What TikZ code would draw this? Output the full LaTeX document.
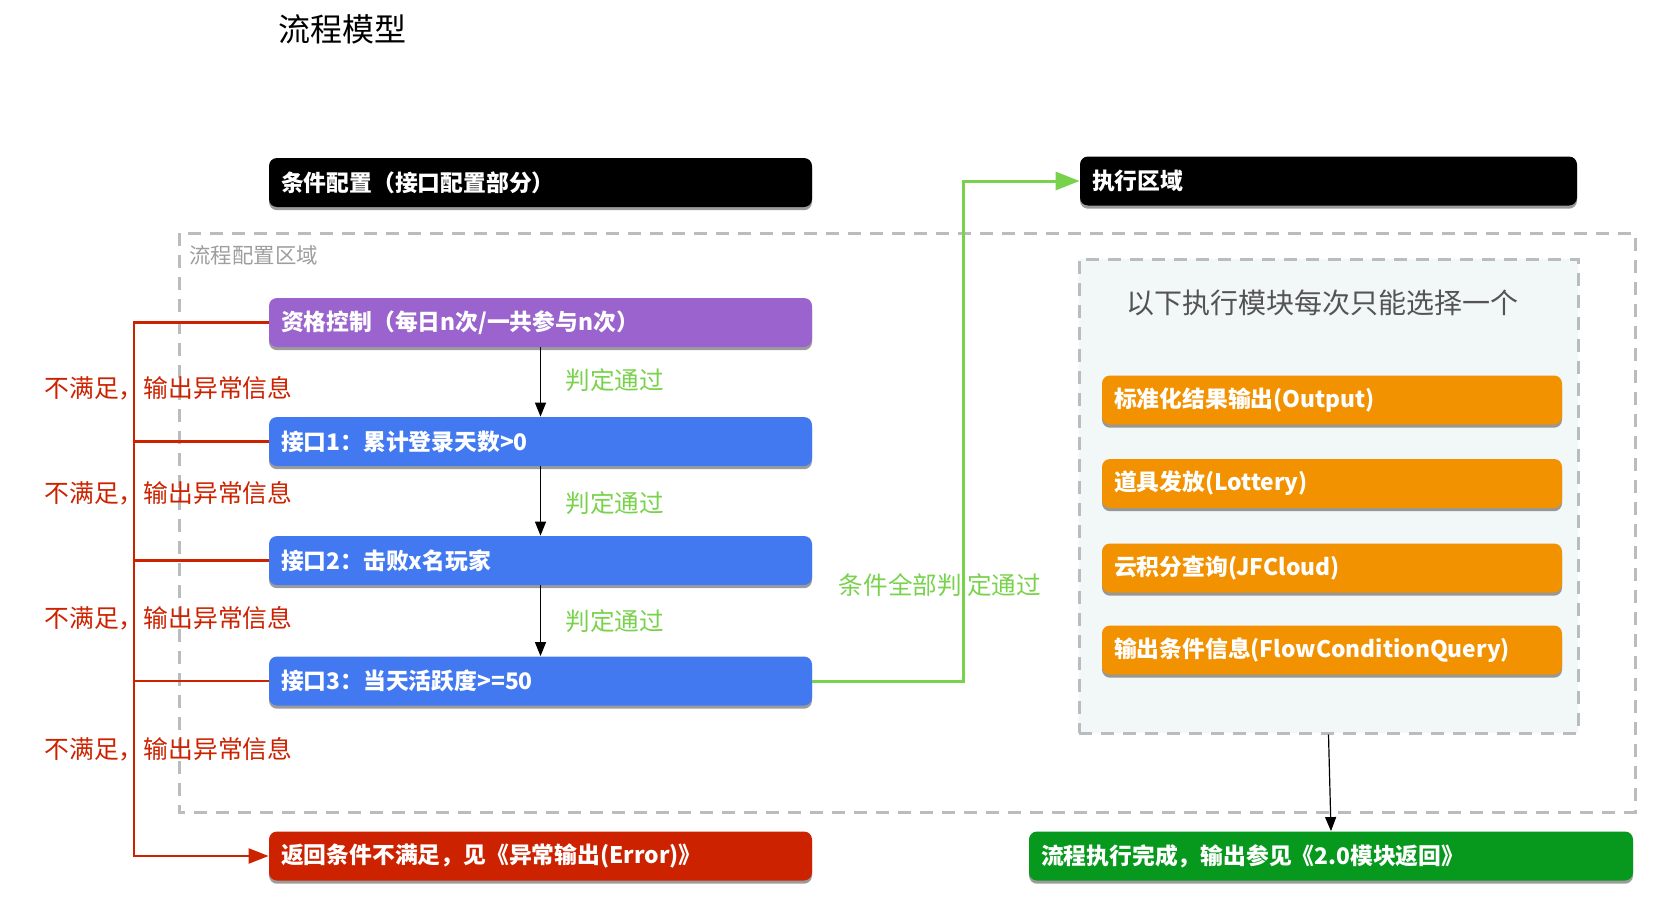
\documentclass[tikz,border=0pt]{standalone}
\usepackage{fontspec}
\setmainfont{Noto Sans CJK SC}
\usepackage{xcolor}
\usepackage{tikz}
\usetikzlibrary{shapes,arrows,positioning,calc,arrows.meta,shadows}

\definecolor{boxpurple}{HTML}{9A63CD}
\definecolor{boxblue}{HTML}{4279F1}
\definecolor{boxred}{HTML}{CC2200}
\definecolor{boxorange}{HTML}{F29200}
\definecolor{boxgreen}{HTML}{07991D}
\definecolor{passgreen}{HTML}{78D24C}
\definecolor{areagray}{HTML}{B9BDC0}
\definecolor{areafill}{HTML}{F2F7F7}

\tikzset{
    cbox/.style={rounded corners=4pt, minimum height=24.5pt, text width=#1,
        inner xsep=6pt, inner ysep=0pt, align=left, text=white,
        font=\fontsize{11.4}{13}\selectfont\bfseries,
        drop shadow={shadow xshift=0pt, shadow yshift=-1.6pt, opacity=0.6, fill=black!65}},
    areadash/.style={draw=areagray, line width=1.5pt, dash pattern=on 6.5pt off 4.5pt},
    passarrow/.style={draw=black, line width=0.6pt, -{Triangle[length=7pt,width=5.5pt]}},
    passtext/.style={text=passgreen, font=\fontsize{12.3}{14}\selectfont},
    failline/.style={draw=boxred, line width=1.2pt},
    failtext/.style={text=boxred, font=\fontsize{12.4}{14}\selectfont, inner sep=0pt},
    allpass/.style={draw=passgreen, line width=1.5pt, -{Triangle[length=12pt,width=9pt]}}
}

\begin{document}
\begin{tikzpicture}[x=0.5pt,y=-0.5pt]
    \useasboundingbox (0,0) rectangle (1654,910);

    % title
    \node [font=\fontsize{16}{18}\selectfont] (title) at (342,29) {流程模型};

    % areas
    \draw [areadash] (179,233) rectangle (1635,812);
    \node [anchor=west, inner sep=0pt, text=black!38, font=\fontsize{10.7}{12}\selectfont] (arealabel) at (189,255) {流程配置区域};
    \node [areadash, fill=areafill, inner sep=0pt, minimum width=249.5pt, minimum height=237pt] (execarea) at (1328.5,496) {};
    \node [text=black!67, font=\fontsize{14}{16}\selectfont] (execnote) at (1322,303) {以下执行模块每次只能选择一个};

    % headers
    \node [cbox=259.5pt, fill=black] (condhead) at (540.5,182.5) {条件配置（接口配置部分）};
    \node [cbox=236.5pt, fill=black] (exechead) at (1328.5,181) {执行区域};

    % conditions
    \node [cbox=259.5pt, fill=boxpurple] (quota) at (540.5,322.5) {资格控制（每日n次/一共参与n次）};
    \node [cbox=259.5pt, fill=boxblue] (api1) at (540.5,441.5) {接口1：累计登录天数>0};
    \node [cbox=259.5pt, fill=boxblue] (api2) at (540.5,560.5) {接口2：击败x名玩家};
    \node [cbox=259.5pt, fill=boxblue] (api3) at (540.5,681) {接口3：当天活跃度>=50};
    \node [cbox=259.5pt, fill=boxred] (fail) at (540.5,856) {返回条件不满足，见《异常输出(Error)》};

    % modules
    \node [cbox=218pt, fill=boxorange] (output) at (1332,400) {标准化结果输出(Output)};
    \node [cbox=218pt, fill=boxorange] (lottery) at (1332,483.5) {道具发放(Lottery)};
    \node [cbox=218pt, fill=boxorange] (jfcloud) at (1332,568) {云积分查询(JFCloud)};
    \node [cbox=218pt, fill=boxorange] (flowquery) at (1332,650) {输出条件信息(FlowConditionQuery)};
    \node [cbox=290pt, fill=boxgreen] (done) at (1331,856) {流程执行完成，输出参见《2.0模块返回》};

    % pass
    \draw [passarrow] (quota.south) -- (api1.north) node [passtext, midway, right=9pt, yshift=1pt] {判定通过};
    \draw [passarrow] (api1.south) -- (api2.north) node [passtext, midway, right=9pt, yshift=-1pt] {判定通过};
    \draw [passarrow] (api2.south) -- (api3.north) node [passtext, midway, right=9pt] {判定通过};

    % fail
    \coordinate (railtop) at (134,322.5);
    \draw [failline, -{Triangle[length=10pt,width=7.5pt]}] (quota.west) -- (railtop) |- (fail.west);
    \foreach \n in {api1,api2,api3}
        \draw [failline] (\n.west) -- (railtop |- \n.west);
    \node [failtext, anchor=west] (fail1) at (44,388) {不满足，输出异常信息};
    \node [failtext, anchor=west] (fail2) at (44,493) {不满足，输出异常信息};
    \node [failtext, anchor=west] (fail3) at (44,618) {不满足，输出异常信息};
    \node [failtext, anchor=west] (fail4) at (44,749) {不满足，输出异常信息};

    % all passed
    \coordinate (passturn) at (963,681);
    \draw [allpass] (api3.east) -- (passturn) |- (exechead.west);
    \node [passtext] (allpasslabel) at (940,585) {条件全部判 定通过};

    % done
    \draw [passarrow] (execarea.south) -- (done.north);
\end{tikzpicture}
\end{document}
